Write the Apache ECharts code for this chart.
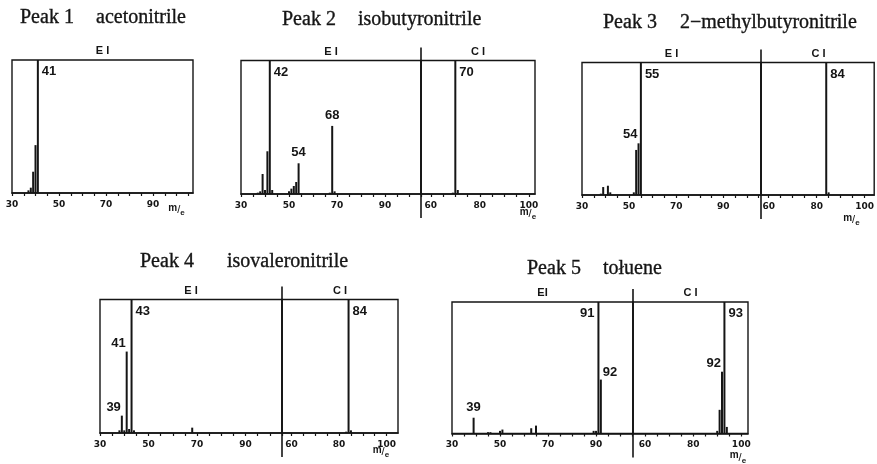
<!DOCTYPE html>
<html>
<head>
<meta charset="utf-8">
<script src="https://cdn.jsdelivr.net/npm/echarts@6/dist/echarts.min.js"></script>
<style>
  html, body { margin: 0; padding: 0; background: #fff; }
  #chart { width: 877px; height: 464px; }
</style>
</head>
<body>
<div id="chart"></div>
<script>
// ---- axis ticks (m/e) ----
const eiTicks = [30, 35, 40, 45, 50, 55, 60, 65, 70, 75, 80, 85, 90, 95, 100, 105];
const eiTickLabels = [30, 50, 70, 90];
const ciTicks = [60, 65, 70, 75, 80, 85, 90, 95, 100];
const ciTickLabels = [60, 80, 100];

// ---- spectra: m/e and relative intensity (% of base peak) ----
// Peak 1 acetonitrile
const p1EiMz  = [37, 38, 39, 40, 41];
const p1EiInt = [2, 4, 16, 36, 100];
const p1EiTagged = [41];

// Peak 2 isobutyronitrile
const p2EiMz  = [37, 38, 39, 40, 41, 42, 43, 50, 51, 52, 53, 54, 67, 68, 69];
const p2EiInt = [1, 2, 15, 3, 32, 100, 3, 2, 4, 6, 9, 23, 1, 51, 2];
const p2EiTagged = [42, 54, 68];
const p2CiMz  = [69, 70, 71];
const p2CiInt = [1, 100, 3];
const p2CiTagged = [70];

// Peak 3 2-methylbutyronitrile
const p3EiMz  = [38, 39, 41, 42, 52, 53, 54, 55];
const p3EiInt = [1, 6, 7, 2, 2, 34, 39, 100];
const p3EiTagged = [54, 55];
const p3CiMz  = [84, 85];
const p3CiInt = [100, 2];
const p3CiTagged = [84];

// Peak 4 isovaleronitrile
const p4EiMz  = [38, 39, 40, 41, 42, 43, 44, 68];
const p4EiInt = [2, 13, 2, 61, 3, 100, 2, 4];
const p4EiTagged = [39, 41, 43];
const p4CiMz  = [83, 84, 85];
const p4CiInt = [1, 100, 2];
const p4CiTagged = [84];

// Peak 5 toluene
const p5EiMz  = [39, 45, 46, 50, 51, 63, 65, 89, 90, 91, 92];
const p5EiInt = [12, 1, 1, 2, 3, 4, 6, 2, 2, 100, 41];
const p5EiTagged = [39, 91, 92];
const p5CiMz  = [90, 91, 92, 93, 94];
const p5CiInt = [2, 18, 47, 100, 5];
const p5CiTagged = [92, 93];

// ---- panel titles ----
const titles = [
  ['Peak 1', 'acetonitrile'],
  ['Peak 2', 'isobutyronitrile'],
  ['Peak 3', '2\u2212methylbutyronitrile'],
  ['Peak 4', 'isovaleronitrile'],
  ['Peak 5', 'to\u0142uene']
];

// ---- layout ----
// title positions: [x of "Peak n", x of compound name, baseline]
const titleAt = [[20, 96, 24], [282, 358, 26.5], [603, 680, 29.5], [140, 227, 268], [527, 603, 275]];

// each section: frame box [left, top, right, bottom], axis range, header text
const sections = [
  { panel: 0, key: 'p1ei', box: [12, 60, 193, 193],    range: [30, 107],   ticks: eiTicks, labels: eiTickLabels, mz: p1EiMz, it: p1EiInt, tagged: p1EiTagged, head: 'E I' },
  { panel: 1, key: 'p2ei', box: [241, 60.5, 421, 194], range: [30, 105],   ticks: eiTicks, labels: eiTickLabels, mz: p2EiMz, it: p2EiInt, tagged: p2EiTagged, head: 'E I' },
  { panel: 1, key: 'p2ci', box: [421, 60.5, 535, 194], range: [56, 102.5], ticks: ciTicks, labels: ciTickLabels, mz: p2CiMz, it: p2CiInt, tagged: p2CiTagged, head: 'C I' },
  { panel: 2, key: 'p3ei', box: [582, 62.5, 761, 195], range: [30, 106],   ticks: eiTicks, labels: eiTickLabels, mz: p3EiMz, it: p3EiInt, tagged: p3EiTagged, head: 'E I' },
  { panel: 2, key: 'p3ci', box: [761, 62.5, 876, 195], range: [56.8, 104], ticks: ciTicks, labels: ciTickLabels, mz: p3CiMz, it: p3CiInt, tagged: p3CiTagged, head: 'C I' },
  { panel: 3, key: 'p4ei', box: [100, 299.5, 282, 433], range: [30, 105],  ticks: eiTicks, labels: eiTickLabels, mz: p4EiMz, it: p4EiInt, tagged: p4EiTagged, head: 'E I' },
  { panel: 3, key: 'p4ci', box: [282, 299.5, 398, 433], range: [56, 104.8], ticks: ciTicks, labels: ciTickLabels, mz: p4CiMz, it: p4CiInt, tagged: p4CiTagged, head: 'C I' },
  { panel: 4, key: 'p5ei', box: [452, 302, 633, 433.5], range: [30, 105.4], ticks: eiTicks, labels: eiTickLabels, mz: p5EiMz, it: p5EiInt, tagged: p5EiTagged, head: 'EI' },
  { panel: 4, key: 'p5ci', box: [633, 302, 748, 433.5], range: [55, 102.8], ticks: ciTicks, labels: ciTickLabels, mz: p5CiMz, it: p5CiInt, tagged: p5CiTagged, head: 'C I' }
];

// where each peak number sits relative to its line
const tagSide = {
  p1ei: { 41: 'rt' },
  p2ei: { 42: 'rt', 54: 'up', 68: 'up' },
  p2ci: { 70: 'rt' },
  p3ei: { 54: 'la', 55: 'rt' },
  p3ci: { 84: 'rt' },
  p4ei: { 39: 'la', 41: 'la', 43: 'rt' },
  p4ci: { 84: 'rt' },
  p5ei: { 39: 'up', 91: 'lt', 92: 'ra' },
  p5ci: { 92: 'la', 93: 'rt' }
};

// "m/e" unit label: [axis value on last section of the panel, offset below the frame]
const unitAt = [[100, 17], [99.6, 20], [94.5, 25], [97.6, 19], [98.6, 24]];

const INK = '#151515';
const SERIF = "'Liberation Serif', 'DejaVu Serif', serif";
const SANS = "'Liberation Sans', Arial, sans-serif";

function tagStyle(side) {
  const base = { show: true, fontSize: 13, fontWeight: 'bold', fontFamily: SANS, color: INK };
  switch (side) {
    case 'rt': return Object.assign(base, { position: [5, 5], align: 'left', verticalAlign: 'top' });
    case 'lt': return Object.assign(base, { position: [-3, 5], align: 'right', verticalAlign: 'top' });
    case 'la': return Object.assign(base, { position: [0, -2], align: 'right', verticalAlign: 'bottom' });
    case 'ra': return Object.assign(base, { position: [3, -1], align: 'left', verticalAlign: 'bottom' });
    default:   return Object.assign(base, { position: 'top', distance: 4 });
  }
}

const chart = echarts.init(document.getElementById('chart'));

chart.setOption({
  animation: false,
  backgroundColor: '#fff',
  grid: sections.map(s => ({
    left: s.box[0], top: s.box[1],
    width: s.box[2] - s.box[0], height: s.box[3] - s.box[1],
    show: true, borderColor: INK, borderWidth: 1.4, containLabel: false
  })),
  xAxis: sections.map((s, i) => ({
    type: 'value', gridIndex: i, min: s.range[0], max: s.range[1],
    splitLine: { show: false },
    axisLine: { show: true, onZero: false, lineStyle: { color: INK, width: 1.6 } },
    axisTick: { show: true, customValues: s.ticks, length: 3, lineStyle: { color: INK, width: 1.2 } },
    axisLabel: { show: true, customValues: s.labels, margin: 7, fontSize: 9, fontWeight: 'bold',
                 fontFamily: "'DejaVu Sans', sans-serif", color: INK }
  })),
  yAxis: sections.map((s, i) => ({ type: 'value', gridIndex: i, min: 0, max: 100, show: false })),
  series: sections.map((s, i) => ({
    type: 'bar', xAxisIndex: i, yAxisIndex: i, barWidth: 2, silent: true,
    itemStyle: { color: INK },
    data: s.mz.map((m, k) => ({
      value: [m, s.it[k]],
      label: s.tagged.includes(m)
        ? Object.assign(tagStyle(tagSide[s.key][m]), { formatter: String(m) })
        : { show: false }
    }))
  }))
});

// decorations: titles, EI/CI headers, EI|CI dividers, unit labels
const graphics = [];
titles.forEach((t, p) => {
  const [x1, x2, base] = titleAt[p];
  [[t[0], x1], [t[1], x2]].forEach(([txt, x]) => graphics.push({
    type: 'text', silent: true,
    style: { text: txt, x: x, y: base - 6.7, fontSize: 20, fontFamily: SERIF, fill: INK,
             verticalAlign: 'middle', align: 'left', stroke: INK, lineWidth: 0.35 }
  }));
});
sections.forEach((s, i) => {
  const [l, t, r, b] = s.box;
  graphics.push({
    type: 'text', silent: true,
    style: { text: s.head, x: (l + r) / 2, y: t - 9, fontSize: 11, fontWeight: 'bold', fontFamily: SANS,
             fill: INK, align: 'center', verticalAlign: 'middle' }
  });
  if (s.head === 'C I') {
    graphics.push({
      type: 'line', silent: true,
      shape: { x1: l, y1: t - 13, x2: l, y2: b + 24 },
      style: { stroke: INK, lineWidth: 1.6 }
    });
  }
});
titles.forEach((t, p) => {
  let last = -1;
  sections.forEach((s, i) => { if (s.panel === p) last = i; });
  const s = sections[last];
  const x = chart.convertToPixel({ xAxisIndex: last }, unitAt[p][0]);
  graphics.push({
    type: 'text', silent: true,
    style: {
      text: '{m|m}{s|/}{e|e}', x: x, y: s.box[3] + unitAt[p][1],
      align: 'center', verticalAlign: 'middle',
      rich: {
        m: { fontSize: 10, fontWeight: 'bold', fontFamily: SANS, fill: INK, verticalAlign: 'top', lineHeight: 14 },
        s: { fontSize: 11, fontFamily: SANS, fill: INK, lineHeight: 14 },
        e: { fontSize: 8, fontWeight: 'bold', fontFamily: SANS, fill: INK, verticalAlign: 'bottom', lineHeight: 14 }
      }
    }
  });
});
chart.setOption({ graphic: graphics });
</script>
</body>
</html>
